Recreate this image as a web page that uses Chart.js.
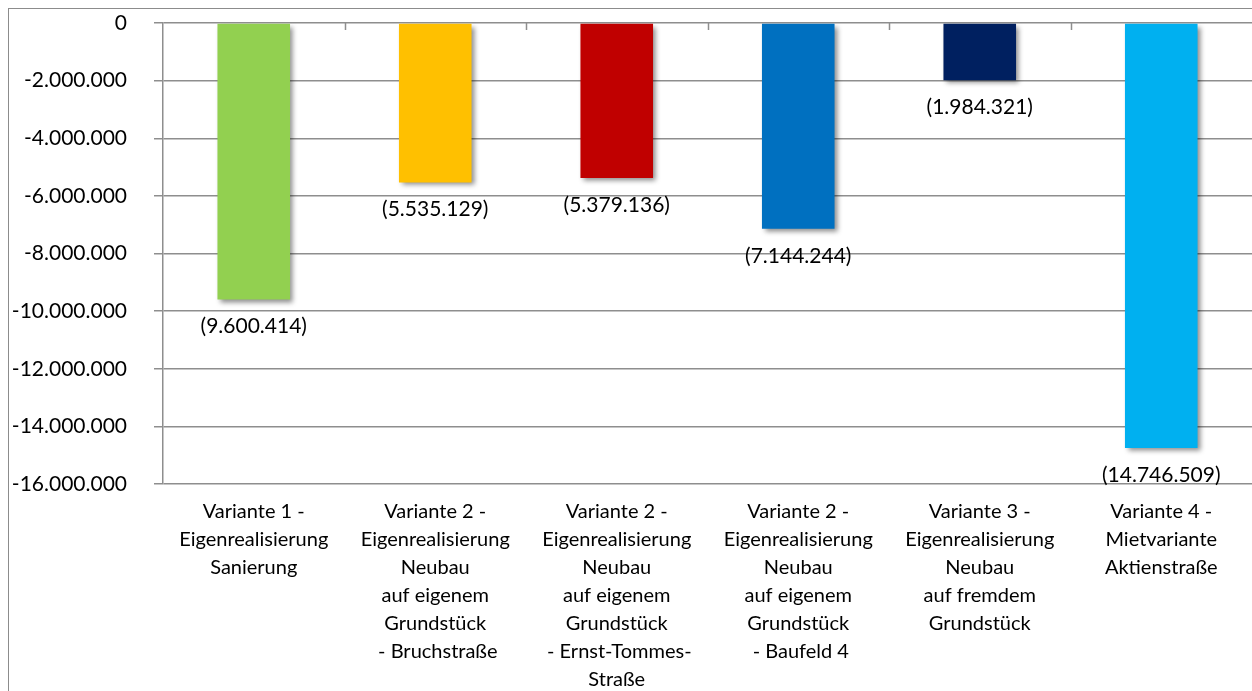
<!DOCTYPE html>
<html>
<head>
<meta charset="utf-8">
<script src="https://cdn.jsdelivr.net/npm/chart.js@4"></script>
<style>
  html, body { margin: 0; padding: 0; background: #fff; overflow: hidden; }
  #frame { position: absolute; left: 8px; top: 8px; width: 2000px; height: 2000px; border: 1px solid #8c8c8c; box-sizing: border-box; }
  #wrap { position: absolute; left: 0; top: 0; width: 1252px; height: 691px; }
</style>
</head>
<body>
<div id="frame"></div>
<div id="wrap"><canvas id="c" width="1252" height="691"></canvas></div>
<script>
const categories = [
  ["Variante 1 -", "Eigenrealisierung", "Sanierung"],
  ["Variante 2 -", "Eigenrealisierung", "Neubau", "auf eigenem", "Grundstück", " - Bruchstraße"],
  ["Variante 2 -", "Eigenrealisierung", "Neubau", "auf eigenem", "Grundstück", " - Ernst-Tommes-", "Straße"],
  ["Variante 2 -", "Eigenrealisierung", "Neubau", "auf eigenem", "Grundstück", " - Baufeld 4"],
  ["Variante 3 -", "Eigenrealisierung", "Neubau", "auf fremdem", "Grundstück"],
  ["Variante 4 -", "Mietvariante", "Aktienstraße"]
];
const values = [-9600414, -5535129, -5379136, -7144244, -1984321, -14746509];
const barColors = ["#92D050", "#FFC000", "#C00000", "#0070C0", "#002060", "#00B0F0"];
const yMin = -16000000;
const yMax = 0;
const yStep = 2000000;

function groupDots(n) {
  return Math.abs(Math.round(n)).toString().replace(/\B(?=(\d{3})+(?!\d))/g, ".");
}
function fmtTick(v) {
  return (v < 0 ? "-" : "") + groupDots(v);
}
function fmtLabel(v) {
  return v < 0 ? "(" + groupDots(v) + ")" : groupDots(v);
}

const FONT = "Lato";
const gridColor = "#8e8e8e";

const canvas = document.getElementById("c");
const ctx0 = canvas.getContext("2d");
ctx0.letterSpacing = "0.5px";

const shadowPlugin = {
  id: "barShadow",
  beforeDatasetsDraw(chart) {
    const ctx = chart.ctx;
    ctx.save();
    ctx.shadowColor = "rgba(0,0,0,0.45)";
    ctx.shadowBlur = 5;
    ctx.shadowOffsetX = 3;
    ctx.shadowOffsetY = 3;
  },
  afterDatasetsDraw(chart) {
    chart.ctx.restore();
  }
};

const labelPlugin = {
  id: "valueLabels",
  afterDatasetsDraw(chart) {
    const ctx = chart.ctx;
    const meta = chart.getDatasetMeta(0);
    ctx.save();
    ctx.font = "21px " + FONT;
    ctx.fillStyle = "#000";
    ctx.textAlign = "center";
    ctx.textBaseline = "middle";
    meta.data.forEach((bar, i) => {
      ctx.fillText(fmtLabel(values[i]), bar.x, bar.y + 27);
    });
    ctx.restore();
  }
};

const axisTickPlugin = {
  id: "zeroAxisTicks",
  afterDraw(chart) {
    const ctx = chart.ctx;
    const xs = chart.scales.x;
    const ys = chart.scales.y;
    const y0 = ys.getPixelForValue(0);
    ctx.save();
    ctx.strokeStyle = gridColor;
    ctx.lineWidth = 1.5;
    ctx.beginPath();
    for (let i = 0; i < categories.length - 1; i++) {
      const x = (xs.getPixelForValue(i) + xs.getPixelForValue(i + 1)) / 2;
      ctx.moveTo(Math.round(x) + 0.5, y0);
      ctx.lineTo(Math.round(x) + 0.5, y0 + 7);
    }
    ctx.stroke();
    ctx.restore();
  }
};

new Chart(canvas, {
  type: "bar",
  data: {
    labels: categories,
    datasets: [{
      data: values,
      backgroundColor: barColors,
      borderWidth: 0,
      categoryPercentage: 0.4,
      barPercentage: 1.0
    }]
  },
  options: {
    responsive: false,
    animation: false,
    events: [],
    layout: { padding: { left: 0, right: 0, top: 23, bottom: 0 } },
    plugins: {
      legend: { display: false },
      tooltip: { enabled: false },
      title: { display: false }
    },
    scales: {
      x: {
        position: "bottom",
        grid: { display: false, drawTicks: false },
        border: { display: false },
        ticks: {
          color: "#000",
          font: { family: FONT, size: 20, lineHeight: 1.4 },
          padding: 14,
          maxRotation: 0,
          minRotation: 0,
          autoSkip: false
        },
        afterFit(scale) {
          scale.height = 207;
          scale.paddingLeft = 0; scale.paddingRight = 0;
          scale.paddingTop = 0; scale.paddingBottom = 0;
        }
      },
      y: {
        min: yMin,
        max: yMax,
        grid: { color: gridColor, lineWidth: 1.5, tickLength: 9, drawTicks: true },
        border: { display: true, color: gridColor, width: 1.5 },
        ticks: {
          stepSize: yStep,
          color: "#000",
          font: { family: FONT, size: 21 },
          padding: 27,
          callback: (v) => fmtTick(v)
        },
        afterFit(scale) {
          scale.width = 163;
          scale.paddingTop = 0; scale.paddingBottom = 0;
        }
      }
    }
  },
  plugins: [shadowPlugin, labelPlugin, axisTickPlugin]
});
</script>
</body>
</html>
